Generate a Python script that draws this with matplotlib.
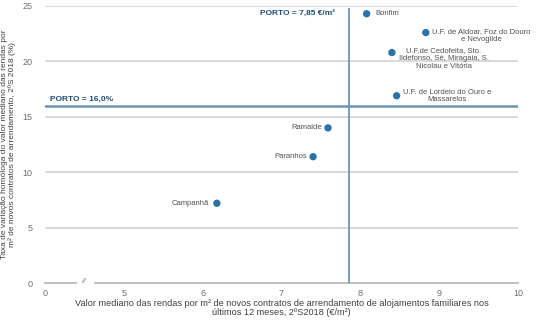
import numpy as np
import matplotlib
matplotlib.use("Agg")
import matplotlib.pyplot as plt

# Freguesias do Porto: renda mediana (€/m²) e variação homóloga (%)
names = ["Bonfim",
         "U.F. de Aldoar, Foz do Douro\ne Nevogilde",
         "U.F.de Cedofeita, Sto.\nIldefonso, Sé, Miragaia, S.\nNicolau e Vitória",
         "U.F. de Lordelo do Ouro e\nMassarelos",
         "Ramalde",
         "Paranhos",
         "Campanhã"]
rent = [8.08, 8.83, 8.40, 8.46, 7.59, 7.40, 6.18]
growth = [24.3, 22.6, 20.8, 16.9, 14.0, 11.4, 7.2]

porto_rent = 7.85
porto_growth = 16.0

xticks = [0, 5, 6, 7, 8, 9, 10]
yticks = [0, 5, 10, 15, 20, 25]

plt.rcParams['font.family'] = ['Liberation Sans', 'DejaVu Sans']

fig = plt.figure(figsize=(5.4, 3.24), dpi=100)
ax = fig.add_axes([0.0833, 0.1265, 0.876, 0.855])

# broken x axis: 0..5 compressed into one unit
def fwd(x):
    x = np.asarray(x, dtype=float)
    return np.where(x < 5, x / 5.0, x - 4.0)

def inv(p):
    p = np.asarray(p, dtype=float)
    return np.where(p < 1, p * 5.0, p + 4.0)

ax.set_xscale('function', functions=(fwd, inv))
ax.set_xlim(0, 10)
ax.set_ylim(0, 25)

for s in ax.spines.values():
    s.set_visible(False)

grid_c = '#d9d9d9'
for yv in yticks[1:]:
    ax.axhline(yv, color=grid_c, lw=1.4, zorder=1)
# baseline with break mark
ax.plot([0, 1.95], [0, 0], color='#bfbfbf', lw=1.4, clip_on=False, zorder=1)
ax.plot([3.15, 10], [0, 0], color='#bfbfbf', lw=1.4, clip_on=False, zorder=1)
ax.text(2.45, 0.1, '//', ha='center', va='center', fontsize=6, color='#808080',
        style='italic')

line_c = '#6b93b6'
ax.axhline(porto_growth, color=line_c, lw=1.8, zorder=2)
ax.axvline(porto_rent, ymin=0, ymax=0.99, color=line_c, lw=1.3, zorder=2)

ax.text(0.3, porto_growth + 0.3, 'PORTO = 16,0%', fontsize=6, fontweight='bold',
        color='#1f4e79', ha='left', va='bottom')
ax.text(porto_rent - 0.17, 24.35, 'PORTO = 7,85 €/m²', fontsize=6, fontweight='bold',
        color='#1f4e79', ha='right', va='center')

pt_c = '#2a72a7'
ax.scatter(rent, growth, s=28, color=pt_c, zorder=4, edgecolors='none')

lab_kw = dict(fontsize=5.5, color='#505050', zorder=5)
# label placement: (dx, dy, ha, va, multi-line alignment, line spacing)
place = [(0.11, 0.0, 'left', 'center', 'left', 1.1),
         (0.08, 0.4, 'left', 'top', 'center', 1.1),
         (0.66, 0.5, 'center', 'top', 'center', 1.2),
         (0.08, 0.65, 'left', 'top', 'center', 1.1),
         (-0.08, 0.0, 'right', 'center', 'right', 1.1),
         (-0.08, 0.0, 'right', 'center', 'right', 1.1),
         (-0.1, 0.0, 'right', 'center', 'right', 1.1)]
for n, x, y, (dx, dy, ha, va, ma, ls) in zip(names, rent, growth, place):
    ax.text(x + dx, y + dy, n, ha=ha, va=va, multialignment=ma,
            linespacing=ls, **lab_kw)

ax.set_xticks(xticks)
ax.set_xticklabels([str(t) for t in xticks])
ax.set_yticks(yticks)
ax.set_yticklabels([str(t) for t in yticks])
ax.xaxis.set_minor_locator(matplotlib.ticker.NullLocator())
ax.tick_params(axis='both', length=0, labelsize=6.5, labelcolor='#6e6e6e')
ax.tick_params(axis='x', pad=4)
ax.tick_params(axis='y', pad=9)

ax.set_xlabel('Valor mediano das rendas por m² de novos contratos de arrendamento de alojamentos familiares nos\n'
              'últimos 12 meses, 2ºS2018 (€/m²)', fontsize=6.6, color='#404040',
              labelpad=1, linespacing=1.05)
ax.set_ylabel('Taxa de variação homóloga do valor mediano das rendas por\n'
              'm² de novos contratos de arrendamento, 2ºS 2018 (%)', fontsize=6,
              color='#404040', labelpad=5, linespacing=1.05)

fig.savefig('out.png', dpi=100)
